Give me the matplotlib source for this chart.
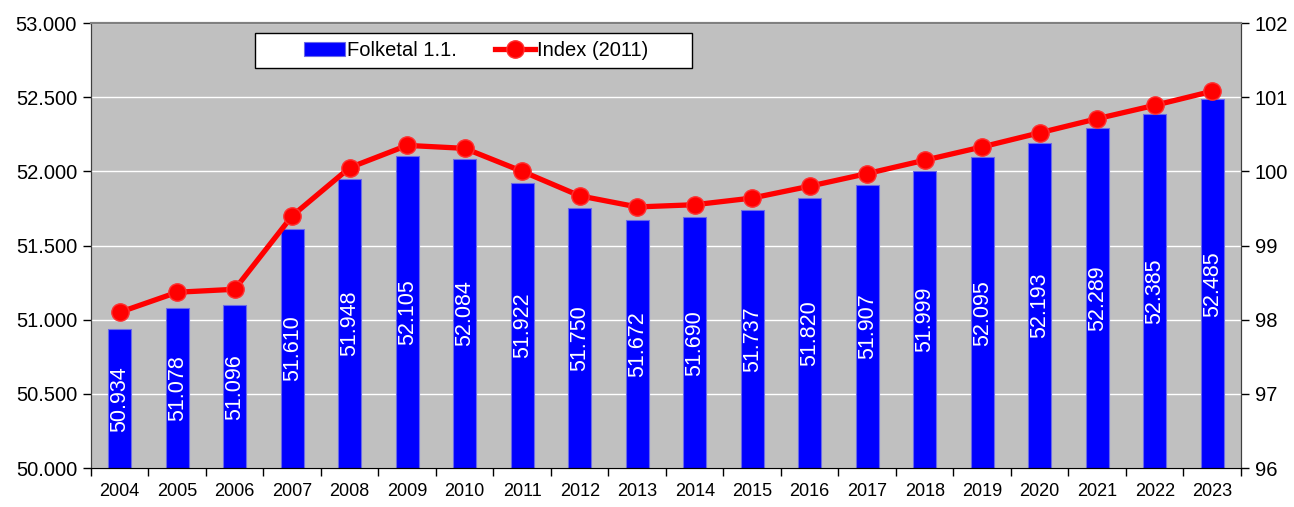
import numpy as np
import matplotlib.pyplot as plt
from matplotlib.ticker import FuncFormatter
from matplotlib.patches import Rectangle

plt.rcParams['font.family'] = ['Liberation Sans', 'DejaVu Sans']

# Data
years = [str(y) for y in range(2004, 2024)]
folketal = [50934, 51078, 51096, 51610, 51948, 52105, 52084, 51922, 51750, 51672,
            51690, 51737, 51820, 51907, 51999, 52095, 52193, 52289, 52385, 52485]
index_2011 = [98.10, 98.37, 98.41, 99.40, 100.05, 100.35, 100.31, 100.00, 99.67, 99.52,
              99.55, 99.64, 99.80, 99.97, 100.15, 100.33, 100.52, 100.71, 100.89, 101.08]

def dotfmt(v, pos=None):
    return f"{v:,.0f}".replace(',', '.')

fig = plt.figure(figsize=(12.94, 5.07), dpi=100)
ax = fig.add_axes([0.0703, 0.0769, 0.8887, 0.8777])
ax.set_facecolor('#c0c0c0')

x = np.arange(len(years))
bars = ax.bar(x, folketal, width=0.4, color='#0000ff', edgecolor='#6a6ae8',
              linewidth=0.8, zorder=2, label='Folketal 1.1.')
ax.set_ylim(50000, 53000)
ax.set_yticks(np.arange(50000, 53001, 500))
ax.yaxis.set_major_formatter(FuncFormatter(dotfmt))
ax.grid(axis='y', color='white', linewidth=1, zorder=1)
ax.set_axisbelow(True)

# value labels inside bars
for xi, v in zip(x, folketal):
    ax.text(xi, (50000 + v) / 2, dotfmt(v), rotation=90, ha='center', va='center',
            color='white', fontsize=15.5, zorder=3)

ax.set_xlim(-0.5, len(years) - 0.5)
ax.set_xticks(np.arange(-0.5, len(years), 1.0))
ax.set_xticklabels([])
ax.set_xticks(x, minor=True)
ax.set_xticklabels(years, minor=True, fontsize=13)
ax.tick_params(axis='x', which='major', direction='out', length=6, width=1, color='black')
ax.tick_params(axis='x', which='minor', length=0, pad=11)
ax.tick_params(axis='y', direction='out', length=6, width=1, labelsize=14.5, pad=4)

ax2 = ax.twinx()
line, = ax2.plot(x, index_2011, color='#ff0000', linewidth=3.8, marker='o',
                 markersize=12.5, markerfacecolor='#ff0000', markeredgecolor='#ff3030',
                 label='Index (2011)', zorder=4)
ax2.set_ylim(96, 102)
ax2.set_yticks(np.arange(96, 103, 1))
ax2.tick_params(axis='y', direction='out', length=6, width=1, labelsize=14.5, pad=4)

for a in (ax, ax2):
    a.spines['top'].set_color('#808080')
    a.spines['top'].set_linewidth(1.5)
    a.spines['left'].set_color('#404040')
    a.spines['right'].set_color('#404040')
    a.spines['bottom'].set_color('black')

# legend box
ax2.add_patch(Rectangle((0.1426, 0.899), 0.38, 0.0785, transform=ax2.transAxes,
                        facecolor='white', edgecolor='black', linewidth=1.0,
                        zorder=9, clip_on=False))
leg = ax2.legend([bars, line], ['Folketal 1.1.', 'Index (2011)'], ncol=2,
                 loc='center', bbox_to_anchor=(0.335, 0.9383), borderaxespad=0,
                 frameon=False, fontsize=14.5,
                 handlelength=2.0, columnspacing=1.9, borderpad=0.2, handletextpad=0.1)
leg.set_zorder(10)

fig.savefig('out.png', dpi=100)
